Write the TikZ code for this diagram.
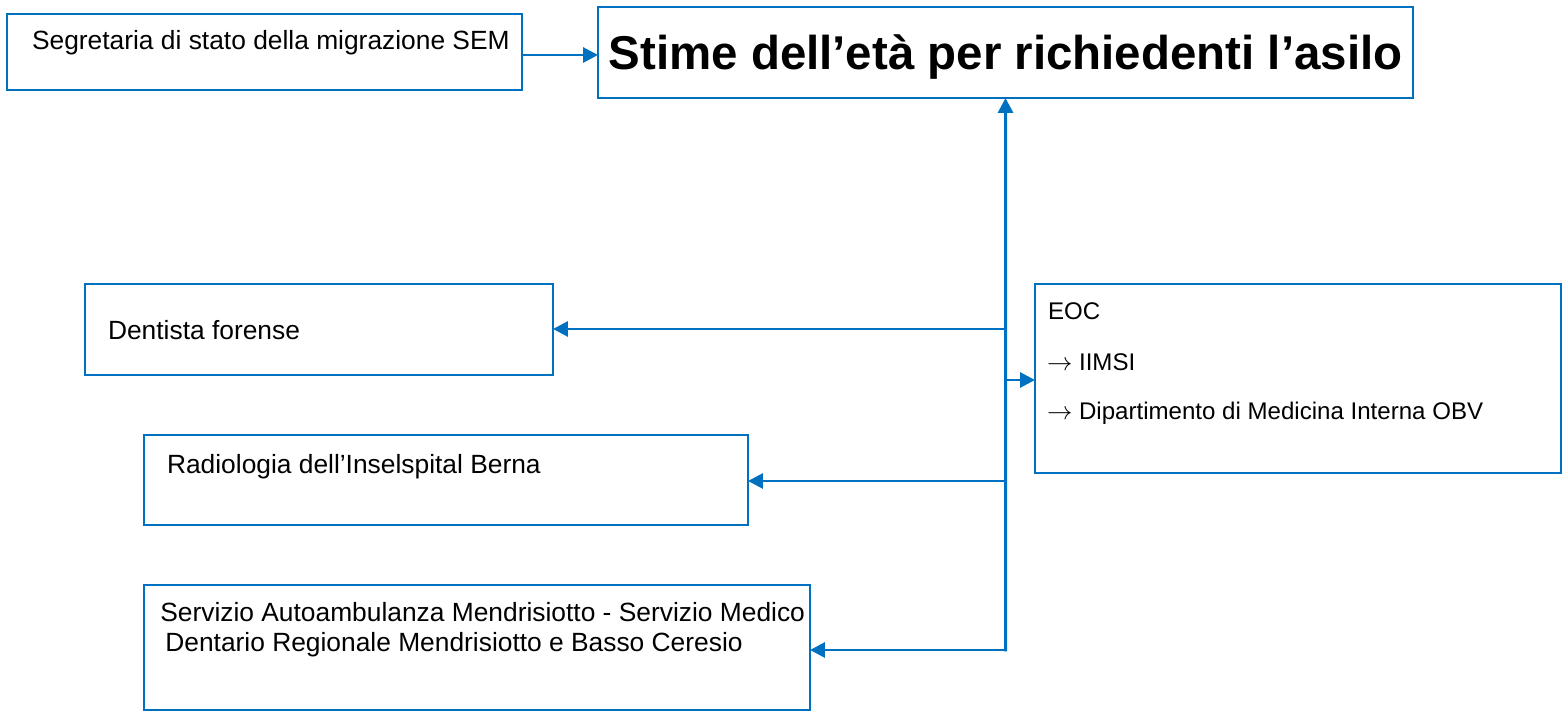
\documentclass[tikz,border=0pt]{standalone}
\usepackage{fontspec}
\setmainfont{Liberation Sans}
\usetikzlibrary{arrows.meta}
\definecolor{linkblue}{HTML}{0070C0}
\newcommand{\eocarrow}{\makebox[0.64cm][l]{\fontsize{14}{16}\selectfont$\rightarrow$}}

\begin{document}
\begin{tikzpicture}[
		box/.style={draw=linkblue, line width=1.1pt, inner sep=0pt, outer sep=0pt, anchor=north west},
		txt/.style={anchor=base west, inner sep=0pt, font=\fontsize{15}{17}\selectfont},
		eoctxt/.style={anchor=base west, inner sep=0pt, font=\fontsize{13.7}{16}\selectfont},
		link/.style={draw=linkblue, line width=1.7pt, line cap=rect, -{Triangle[length=8.5pt,width=8.5pt]}}
	]
		\useasboundingbox (0,0) rectangle (31.24,-14.24);
		% boxes
		\node[box, minimum width=10.3cm, minimum height=1.52cm] (sem) at (0.14,-0.28) {};
		\node[box, minimum width=16.3cm, minimum height=1.82cm, text height=0.7cm, text depth=0pt,
			font=\bfseries\fontsize{27}{32}\selectfont] (title) at (11.96,-0.14) {Stime dell’età per richiedenti l’asilo};
		\node[box, minimum width=9.36cm, minimum height=1.82cm] (dent) at (1.70,-5.68) {};
		\node[box, minimum width=10.52cm, minimum height=3.78cm] (eoc) at (20.70,-5.68) {};
		\node[box, minimum width=12.08cm, minimum height=1.80cm] (rad) at (2.88,-8.70) {};
		\node[box, minimum width=13.32cm, minimum height=2.50cm] (serv) at (2.88,-11.70) {};
		% texts
		\node[txt] (semtxt) at (0.634,-1.00) {Segretaria di stato della migrazione SEM};
		\node[txt] (denttxt) at (2.154,-6.80) {Dentista forense};
		\node[txt] (radtxt) at (3.334,-9.46) {Radiologia dell’Inselspital Berna};
		\node[txt] (servtxta) at (3.20,-12.434) {Servizio Autoambulanza Mendrisiotto - Servizio Medico};
		\node[txt] (servtxtb) at (3.30,-13.034) {Dentario Regionale Mendrisiotto e Basso Ceresio};
		\node[eoctxt] (eoctxta) at (20.954,-6.40) {EOC};
		\node[eoctxt] (eoctxtb) at (20.934,-7.414) {\eocarrow IIMSI};
		\node[eoctxt] (eoctxtc) at (20.934,-8.40) {\eocarrow Dipartimento di Medicina Interna OBV};
		% connectors
		\coordinate (jdent) at (20.11,-6.58);
		\coordinate (jeoc) at (20.11,-7.60);
		\coordinate (jrad) at (20.11,-9.62);
		\coordinate (jserv) at (20.11,-13.00);
		\draw[link] (sem.east |- 0,-1.10) -- (title.west |- 0,-1.10);
		\draw[link] (jserv) -- (title.south);
		\draw[link] (jdent) -- (jdent -| dent.east);
		\draw[link] (jeoc) -- (jeoc -| eoc.west);
		\draw[link] (jrad) -- (jrad -| rad.east);
		\draw[link] (jserv) -- (jserv -| serv.east);
\end{tikzpicture}
\end{document}
